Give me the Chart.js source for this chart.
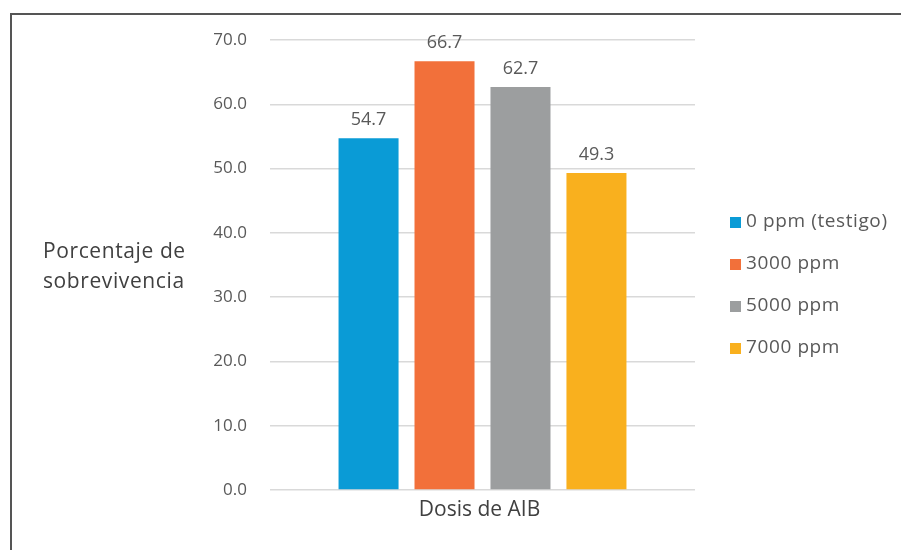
<!DOCTYPE html>
<html>
<head>
<meta charset="utf-8">
<script src="https://cdn.jsdelivr.net/npm/chart.js@4/dist/chart.umd.min.js"></script>
<style>
  html, body { margin: 0; padding: 0; background: #ffffff; }
  #c { display: block; }
</style>
</head>
<body>
<canvas id="c" width="901" height="550"></canvas>
<script>
// Survival percentage by IBA dose
const categories = ["Dosis de AIB"];
const seriesNames = ["0 ppm (testigo)", "3000 ppm", "5000 ppm", "7000 ppm"];
const seriesValues = [54.7, 66.7, 62.7, 49.3];
const seriesColors = ["#0a9bd6", "#f2703a", "#9c9e9f", "#f9b01e"];
const yTitleLines = ["Porcentaje de", "sobrevivencia"];
const xTitle = "Dosis de AIB";

const FONT = "'Open Sans', 'Noto Sans', sans-serif";
const TEXT = "#595959";

const datasets = seriesNames.map((name, i) => ({
  label: name,
  data: [seriesValues[i]],
  backgroundColor: seriesColors[i],
  borderWidth: 0,
  categoryPercentage: 0.715,
  barPercentage: 0.79
}));

// outer frame, value labels, axis titles and legend
const decorations = {
  id: "decorations",
  beforeDraw(chart) {
    const ctx = chart.ctx;
    ctx.save();
    ctx.fillStyle = "#ffffff";
    ctx.fillRect(0, 0, chart.width, chart.height);
    ctx.restore();
  },
  afterDraw(chart) {
    const ctx = chart.ctx;
    const area = chart.chartArea;
    ctx.save();

    // frame
    ctx.strokeStyle = "#555555";
    ctx.lineWidth = 2;
    ctx.beginPath();
    ctx.moveTo(11, chart.height);
    ctx.lineTo(11, 14);
    ctx.lineTo(chart.width, 14);
    ctx.stroke();

    // value labels above bars
    ctx.fillStyle = TEXT;
    ctx.font = "18px " + FONT;
    ctx.textAlign = "center";
    ctx.textBaseline = "bottom";
    chart.data.datasets.forEach((ds, i) => {
      const meta = chart.getDatasetMeta(i);
      meta.data.forEach((bar, j) => {
        ctx.fillText(ds.data[j].toFixed(1), bar.x, bar.y - 9);
      });
    });

    // x-axis title
    ctx.fillStyle = "#404040";
    ctx.font = "21px " + FONT;
    ctx.textBaseline = "middle";
    ctx.fillText(xTitle, (area.left + area.right) / 2 - 3, 510);

    // y-axis title
    ctx.textAlign = "left";
    ctx.letterSpacing = "0.6px";
    yTitleLines.forEach((line, k) => {
      ctx.fillText(line, 43, 252 + k * 30);
    });

    // legend
    ctx.font = "19px " + FONT;
    ctx.letterSpacing = "0.6px";
    chart.data.datasets.forEach((ds, i) => {
      const y = 222 + i * 42;
      ctx.fillStyle = ds.backgroundColor;
      ctx.fillRect(730, y - 5, 11, 11);
      ctx.fillStyle = TEXT;
      ctx.fillText(ds.label, 746, y);
    });

    ctx.restore();
  }
};

new Chart(document.getElementById("c"), {
  type: "bar",
  data: { labels: categories, datasets },
  options: {
    responsive: false,
    animation: false,
    layout: { padding: { left: 200, right: 206, top: 40, bottom: 60 } },
    plugins: {
      legend: { display: false },
      tooltip: { enabled: false }
    },
    scales: {
      x: {
        ticks: { display: false },
        grid: { display: false, drawTicks: false },
        border: { display: false },
        afterFit(scale) { scale.height = 0; }
      },
      y: {
        min: 0,
        max: 70,
        ticks: {
          stepSize: 10,
          padding: 23,
          color: TEXT,
          font: { family: FONT, size: 17 },
          callback: v => Number(v).toFixed(1)
        },
        grid: { color: "#d9d9d9", lineWidth: 1.5, drawTicks: false },
        border: { display: false },
        afterFit(scale) { scale.width = 70; }
      }
    }
  },
  plugins: [decorations]
});
</script>
</body>
</html>
